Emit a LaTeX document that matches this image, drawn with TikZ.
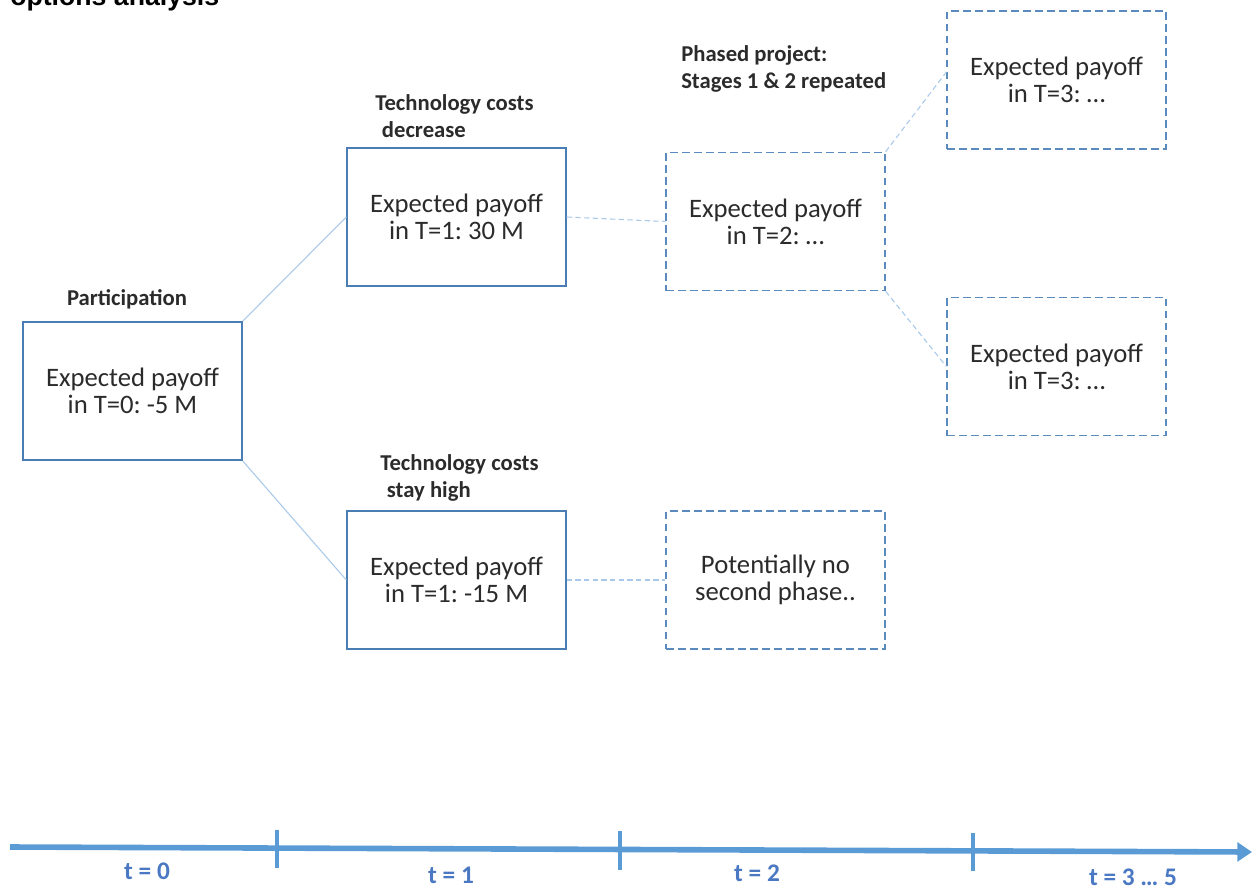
\documentclass[tikz,border=0pt]{standalone}
\usepackage{fontspec}
\setmainfont{Carlito}
\newfontfamily\titlefont{Liberation Sans}
\usetikzlibrary{arrows.meta}
\frenchspacing
\definecolor{boxblue}{HTML}{4A7DB3}
\definecolor{dashblue}{HTML}{5B8BBE}
\definecolor{linkblue}{HTML}{A9C9EA}
\definecolor{axisblue}{HTML}{5B9BD5}
\definecolor{tblue}{HTML}{4A78C2}
\definecolor{txt}{HTML}{2B2B2B}
\tikzset{
  solidbox/.style={draw=boxblue, line width=1.3pt, minimum width=164pt, minimum height=103.5pt, inner sep=0pt, align=center, text=txt, font=\fontsize{20}{20.25}\selectfont},
  dashbox/.style={solidbox, draw=dashblue, line width=1.2pt, dash pattern=on 5.5pt off 3.5pt},
  link/.style={draw=linkblue, line width=0.8pt},
  dlink/.style={link, dash pattern=on 4pt off 2.5pt},
  lbl/.style={font=\fontsize{17}{20.25}\selectfont\bfseries, text=txt, align=left, inner sep=0pt},
  tlbl/.style={font=\fontsize{19}{20}\selectfont\bfseries, text=tblue, inner sep=0pt},
  tick/.style={draw=axisblue, line width=2.3pt}
}
\begin{document}
\begin{tikzpicture}[x=0.75pt,y=-0.75pt]
\useasboundingbox (0,0) rectangle (1255,892);
\clip (0,0) rectangle (1255,892);
% title (cut off at top, as in the reference)
\node[anchor=base west, inner sep=0pt, font=\titlefont\fontsize{20}{24}\selectfont\bfseries] (title) at (10,6) {options analysis};
% boxes
\node[solidbox] (p0) at (132.5,391) {Expected payoff\\in T=0: -5 M};
\node[solidbox] (up) at (456.5,217) {Expected payoff\\in T=1: 30 M};
\node[solidbox] (dn) at (456.5,580) {Expected payoff\\in T=1: -15 M};
\node[dashbox] (t2) at (775.5,221.5) {Expected payoff\\in T=2: \dots};
\node[dashbox] (t3a) at (1056.5,80) {Expected payoff\\in T=3: \dots};
\node[dashbox] (t3b) at (1056.5,366.5) {Expected payoff\\in T=3: \dots};
\node[dashbox] (np) at (775.5,580) {Potentially no\\second phase..};
% labels
\node[lbl, anchor=base] (lpart) at (127,305) {Participation};
\node[lbl, anchor=base west] (ldec) at (375,137) {Technology costs\\\hspace{5pt}decrease};
\node[lbl, anchor=base west] (lhigh) at (380,497) {Technology costs\\\hspace{5pt}stay high};
\node[lbl, anchor=base west] (lphase) at (681,89) {Phased project:\\Stages 1 \& 2 repeated};
% connectors
\draw[link] (p0.north east) -- (up.west);
\draw[link] (p0.south east) -- (dn.west);
\draw[dlink] (up.east) -- (t2.west);
\draw[dlink] (dn.east) -- (np.west);
\draw[dlink] (t2.north east) -- ([yshift=6pt]t3a.west);
\draw[dlink] (t2.south east) -- (t3b.west);
% timeline
\coordinate (a0) at (10,847);
\coordinate (a1) at (1252,852);
\draw[draw=axisblue, line width=4.2pt, -{Triangle[length=11pt,width=14pt]}] (a0) -- (a1);
\coordinate (k1a) at (277,830); \coordinate (k1b) at (277,868);
\coordinate (k2a) at (620,831); \coordinate (k2b) at (620,870);
\coordinate (k3a) at (973,833); \coordinate (k3b) at (973,871);
\draw[tick] (k1a) -- (k1b);
\draw[tick] (k2a) -- (k2b);
\draw[tick] (k3a) -- (k3b);
\node[tlbl] (t0l) at (147,871) {t = 0};
\node[tlbl] (t1l) at (451,875) {t = 1};
\node[tlbl] (t2l) at (757,873) {t = 2};
\node[tlbl] (t3l) at (1133,877) {t = 3 … 5};
\end{tikzpicture}
\end{document}
